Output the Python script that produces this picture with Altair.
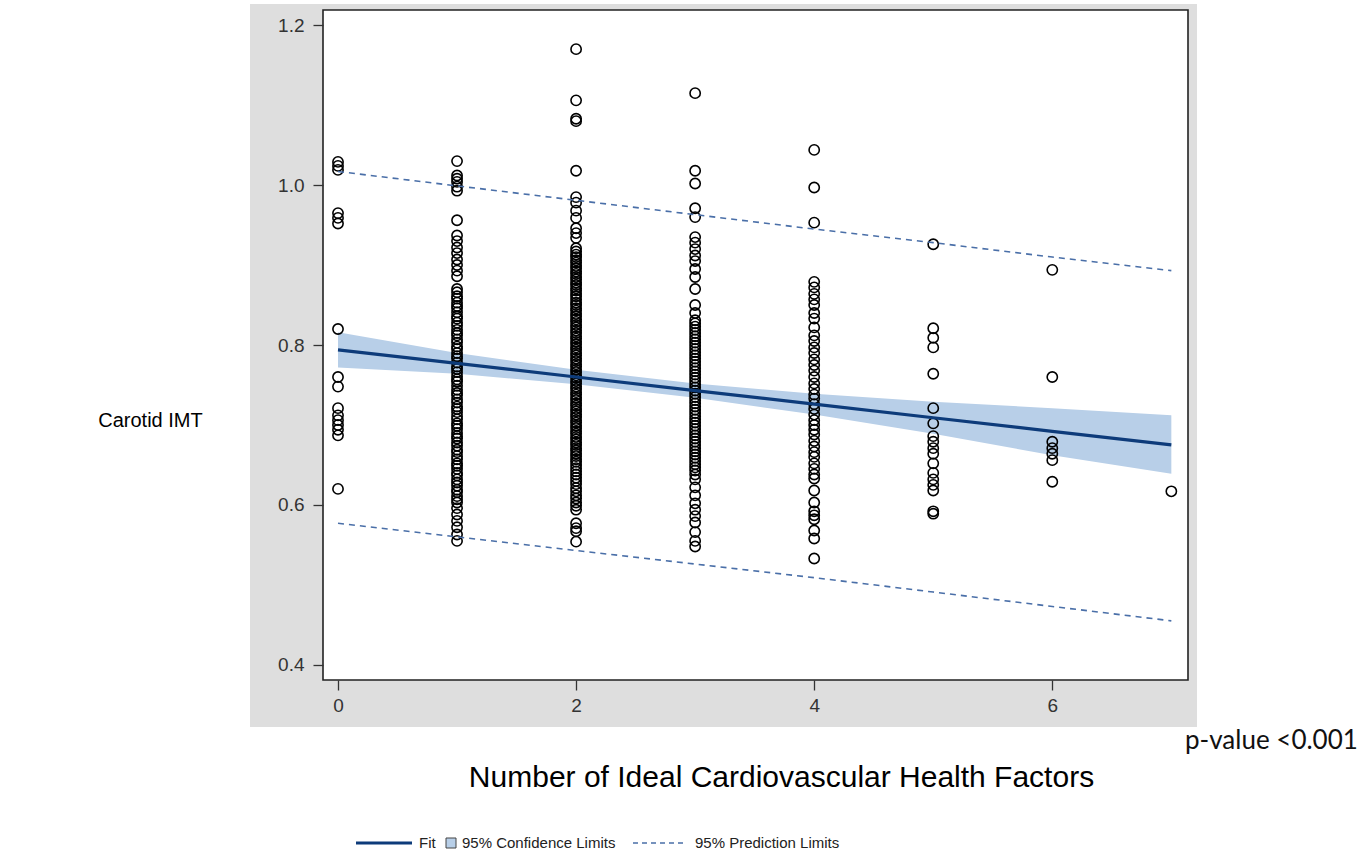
import altair as alt
import pandas as pd

# ---------------- data ----------------
x_line = [0, 1, 2, 3, 4, 5, 6, 7]
fit = [0.794, 0.777, 0.760, 0.743, 0.726, 0.709, 0.692, 0.675]
ci_low = [0.772, 0.764, 0.751, 0.734, 0.713, 0.689, 0.662, 0.639]
ci_high = [0.816, 0.790, 0.769, 0.752, 0.739, 0.729, 0.721, 0.712]
pi_low = [0.577, 0.560, 0.543, 0.526, 0.509, 0.491, 0.473, 0.455]
pi_high = [1.017, 0.999, 0.981, 0.963, 0.945, 0.928, 0.910, 0.893]

imt_0 = [1.029, 1.024, 1.019, 0.965, 0.959, 0.952, 0.820, 0.760, 0.748, 0.721,
         0.712, 0.706, 0.700, 0.694, 0.687, 0.620]
imt_1 = [1.030, 1.012, 1.008, 1.004, 0.998, 0.993, 0.956, 0.937, 0.930, 0.922,
         0.915, 0.907, 0.900, 0.893, 0.886, 0.870, 0.866, 0.861, 0.858, 0.853,
         0.849, 0.846, 0.841, 0.836, 0.833, 0.828, 0.824, 0.819, 0.815, 0.812,
         0.807, 0.803, 0.798, 0.795, 0.790, 0.786, 0.783, 0.778, 0.773, 0.770,
         0.766, 0.761, 0.757, 0.754, 0.749, 0.744, 0.740, 0.737, 0.732, 0.728,
         0.723, 0.720, 0.716, 0.711, 0.707, 0.702, 0.699, 0.695, 0.690, 0.686,
         0.683, 0.678, 0.674, 0.669, 0.666, 0.661, 0.657, 0.652, 0.649, 0.645,
         0.640, 0.637, 0.632, 0.628, 0.624, 0.619, 0.616, 0.611, 0.607, 0.603,
         0.596, 0.588, 0.580, 0.572, 0.563, 0.555]
imt_2 = [1.170, 1.106, 1.083, 1.080, 1.018, 0.985, 0.978, 0.968, 0.959, 0.946,
         0.940, 0.934, 0.921, 0.917, 0.913, 0.910, 0.906, 0.903, 0.899, 0.896,
         0.892, 0.889, 0.885, 0.882, 0.878, 0.875, 0.871, 0.868, 0.864, 0.861,
         0.857, 0.853, 0.850, 0.846, 0.843, 0.839, 0.836, 0.832, 0.829, 0.825,
         0.822, 0.818, 0.815, 0.811, 0.808, 0.804, 0.801, 0.797, 0.794, 0.790,
         0.787, 0.783, 0.780, 0.776, 0.773, 0.769, 0.766, 0.762, 0.759, 0.755,
         0.752, 0.748, 0.745, 0.741, 0.738, 0.734, 0.731, 0.727, 0.724, 0.720,
         0.717, 0.713, 0.710, 0.706, 0.703, 0.699, 0.696, 0.692, 0.689, 0.685,
         0.682, 0.678, 0.675, 0.671, 0.668, 0.664, 0.661, 0.657, 0.654, 0.650,
         0.646, 0.642, 0.638, 0.634, 0.630, 0.626, 0.621, 0.617, 0.612, 0.608,
         0.603, 0.599, 0.594, 0.577, 0.571, 0.567, 0.554]
imt_3 = [1.115, 1.018, 1.002, 0.971, 0.960, 0.935, 0.928, 0.920, 0.912, 0.905,
         0.895, 0.885, 0.870, 0.850, 0.840, 0.831, 0.827, 0.823, 0.819, 0.815,
         0.811, 0.807, 0.803, 0.799, 0.795, 0.791, 0.787, 0.783, 0.779, 0.775,
         0.771, 0.767, 0.763, 0.759, 0.755, 0.751, 0.747, 0.743, 0.739, 0.735,
         0.731, 0.727, 0.723, 0.719, 0.715, 0.711, 0.707, 0.703, 0.699, 0.695,
         0.691, 0.687, 0.683, 0.679, 0.675, 0.671, 0.667, 0.663, 0.659, 0.655,
         0.651, 0.647, 0.643, 0.638, 0.632, 0.622, 0.612, 0.602, 0.594, 0.586,
         0.578, 0.566, 0.555, 0.548]
imt_4 = [1.044, 0.997, 0.953, 0.879, 0.872, 0.864, 0.857, 0.850, 0.840, 0.833,
         0.822, 0.812, 0.805, 0.797, 0.790, 0.782, 0.775, 0.768, 0.760, 0.752,
         0.745, 0.738, 0.733, 0.726, 0.720, 0.713, 0.706, 0.700, 0.694, 0.688,
         0.680, 0.673, 0.666, 0.660, 0.652, 0.645, 0.638, 0.633, 0.618, 0.603,
         0.592, 0.587, 0.582, 0.568, 0.558, 0.533]
imt_5 = [0.926, 0.821, 0.809, 0.797, 0.764, 0.721, 0.702, 0.686, 0.679, 0.671,
         0.664, 0.652, 0.640, 0.632, 0.625, 0.618, 0.592, 0.589]
imt_6 = [0.894, 0.760, 0.679, 0.671, 0.664, 0.656, 0.629]
imt_7 = [0.617]

groups = [imt_0, imt_1, imt_2, imt_3, imt_4, imt_5, imt_6, imt_7]
pts = pd.DataFrame(
    [{"n": i, "imt": v} for i, g in enumerate(groups) for v in g]
)
lines = pd.DataFrame({"n": x_line, "fit": fit, "ci_low": ci_low, "ci_high": ci_high,
                      "pi_low": pi_low, "pi_high": pi_high})

x_ticks = [0, 2, 4, 6]
y_ticks = [0.4, 0.6, 0.8, 1.0, 1.2]

legend_labels = ["Fit", "95% Confidence Limits", "95% Prediction Limits"]
y_title = "Carotid IMT"
x_title = "Number of Ideal Cardiovascular Health Factors"
note = "p-value <0.001"

# ---------------- styling ----------------
W, H = 865, 670
NAVY = "#0d3b7a"
BAND = "#b8cfe8"
DASH = "#4a6fa8"
GRAY = "#dedede"
FONT = "Liberation Sans"

xs = alt.Scale(domain=[-0.126, 7.14], nice=False, zero=False)
ys = alt.Scale(domain=[0.381, 1.219], nice=False, zero=False)

x_axis = alt.Axis(values=x_ticks, title=x_title, format="d", domain=False, grid=False,
                  tickSize=10, tickColor="#333", tickWidth=1.3, labelColor="#333",
                  labelFont=FONT, labelFontSize=19, labelPadding=6,
                  titleFont=FONT, titleFontSize=30, titleFontWeight="normal",
                  titleColor="#000", titleX=458, titleY=97, titleAlign="center",
                  titleBaseline="middle", zindex=1)
y_axis = alt.Axis(values=y_ticks, title=y_title, format=".1f", domain=False, grid=False,
                  tickSize=10, tickColor="#333", tickWidth=1.3, labelColor="#333",
                  labelFont=FONT, labelFontSize=19, labelPadding=9,
                  titleFont=FONT, titleFontSize=20, titleFontWeight="normal",
                  titleColor="#000", titleAngle=0, titleX=-173, titleY=410,
                  titleAlign="center", titleBaseline="middle", zindex=1)

one = pd.DataFrame({"k": [0]})

bg = alt.Chart(one).mark_rect(color=GRAY).encode(
    x=alt.value(-73), x2=alt.value(874), y=alt.value(-6), y2=alt.value(717))
panel = alt.Chart(one).mark_rect(fill="white", stroke="#222", strokeWidth=1.6).encode(
    x=alt.value(0), x2=alt.value(W), y=alt.value(0), y2=alt.value(H))

base = alt.Chart(lines)
band = base.mark_area(color=BAND, opacity=1).encode(
    x=alt.X("n:Q", scale=xs, axis=x_axis),
    y=alt.Y("ci_low:Q", scale=ys, axis=y_axis),
    y2="ci_high:Q")
fit_line = base.mark_line(color=NAVY, strokeWidth=3.2).encode(
    x=alt.X("n:Q", scale=xs), y=alt.Y("fit:Q", scale=ys))
pi_lo = base.mark_line(color=DASH, strokeWidth=1.6, strokeDash=[6, 5]).encode(
    x=alt.X("n:Q", scale=xs), y=alt.Y("pi_low:Q", scale=ys))
pi_hi = base.mark_line(color=DASH, strokeWidth=1.6, strokeDash=[6, 5]).encode(
    x=alt.X("n:Q", scale=xs), y=alt.Y("pi_high:Q", scale=ys))

points = alt.Chart(pts).mark_point(shape="circle", filled=False, color="black",
                                   size=105, strokeWidth=1.6, opacity=1).encode(
    x=alt.X("n:Q", scale=xs), y=alt.Y("imt:Q", scale=ys))

# note text
note_txt = alt.Chart(pd.DataFrame({"t": [note]})).mark_text(
    align="left", baseline="middle", font="Lato", fontSize=26, color="#111").encode(
    x=alt.value(862), y=alt.value(731), text="t:N")

# legend (bottom)
LY = 833
LFS = 15
leg_fit = alt.Chart(one).mark_rule(color=NAVY, strokeWidth=3).encode(
    x=alt.value(33), x2=alt.value(89), y=alt.value(LY))
leg_fit_t = alt.Chart(pd.DataFrame({"t": [legend_labels[0]]})).mark_text(
    align="left", baseline="middle", font=FONT, fontSize=LFS, color="#222").encode(
    x=alt.value(96), y=alt.value(LY), text="t:N")
leg_box = alt.Chart(one).mark_rect(fill=BAND, stroke="#444", strokeWidth=1).encode(
    x=alt.value(123), x2=alt.value(133), y=alt.value(LY - 5), y2=alt.value(LY + 5))
leg_box_t = alt.Chart(pd.DataFrame({"t": [legend_labels[1]]})).mark_text(
    align="left", baseline="middle", font=FONT, fontSize=LFS, color="#222").encode(
    x=alt.value(139), y=alt.value(LY), text="t:N")
leg_dash = alt.Chart(one).mark_rule(color=DASH, strokeWidth=1.5, strokeDash=[5, 4]).encode(
    x=alt.value(310), x2=alt.value(362), y=alt.value(LY))
leg_dash_t = alt.Chart(pd.DataFrame({"t": [legend_labels[2]]})).mark_text(
    align="left", baseline="middle", font=FONT, fontSize=LFS, color="#222").encode(
    x=alt.value(372), y=alt.value(LY), text="t:N")

chart = alt.layer(
    bg, panel, band, points, fit_line, pi_lo, pi_hi, note_txt,
    leg_fit, leg_fit_t, leg_box, leg_box_t, leg_dash, leg_dash_t
).properties(
    width=W, height=H,
    autosize=alt.AutoSizeParams(type="none"),
    padding={"left": 323, "top": 10, "right": 174, "bottom": 176},
    background="white",
).configure_view(strokeWidth=0)

chart.save("out.html", embed_options={"renderer": "svg", "actions": False})
